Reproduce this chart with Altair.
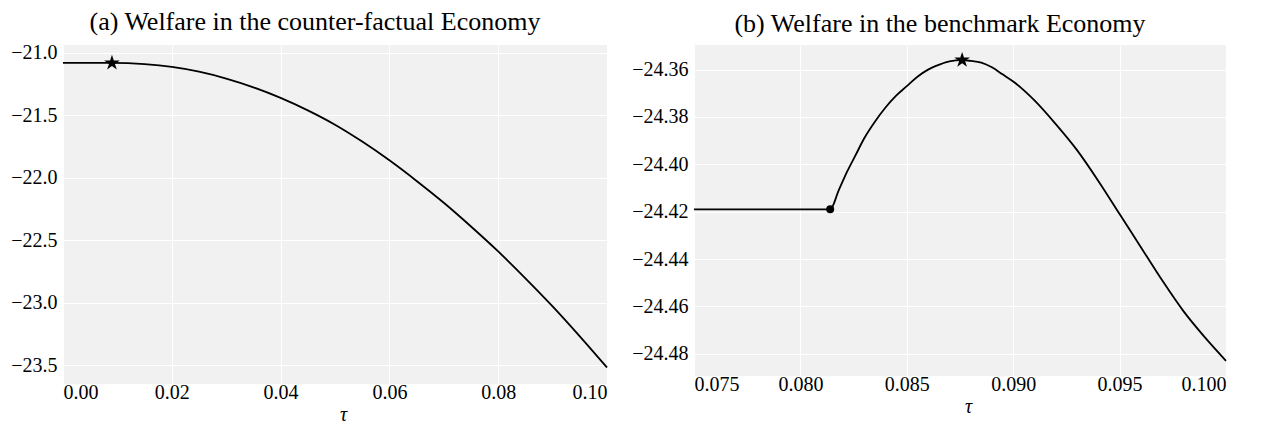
import altair as alt
import pandas as pd

# ---- Panel (a): counter-factual economy ----
tau_a = [0.000, 0.009, 0.015, 0.020, 0.025, 0.030, 0.035, 0.040, 0.045, 0.050,
         0.055, 0.060, 0.065, 0.070, 0.075, 0.080, 0.085, 0.090, 0.095, 0.100]
welfare_a = [-21.080, -21.080, -21.090, -21.112, -21.150, -21.205, -21.275, -21.360,
             -21.460, -21.575, -21.710, -21.860, -22.025, -22.200, -22.390, -22.590,
             -22.805, -23.030, -23.270, -23.520]
star_a_tau = [0.009]
star_a_w = [-21.080]

# ---- Panel (b): benchmark economy ----
tau_b = [0.0750, 0.0814, 0.0818, 0.0822, 0.0826, 0.0830, 0.0835, 0.0840, 0.0845,
         0.0850, 0.0855, 0.0860, 0.0865, 0.0870, 0.0876, 0.0880, 0.0885, 0.0890,
         0.0895, 0.0900, 0.0910, 0.0920, 0.0930, 0.0940, 0.0950, 0.0960, 0.0970,
         0.0980, 0.0990, 0.1000]
welfare_b = [-24.419, -24.419, -24.411, -24.403, -24.396, -24.389, -24.382, -24.376,
             -24.371, -24.367, -24.363, -24.360, -24.358, -24.3565, -24.356, -24.3563,
             -24.357, -24.359, -24.362, -24.365, -24.373, -24.383, -24.394, -24.407,
             -24.421, -24.435, -24.449, -24.462, -24.473, -24.483]
star_b_tau = [0.0876]
star_b_w = [-24.356]
kink_b_tau = [0.0814]
kink_b_w = [-24.419]

ticks_a_x = [0.00, 0.02, 0.04, 0.06, 0.08, 0.10]
ticks_a_y = [-21.0, -21.5, -22.0, -22.5, -23.0, -23.5]
ticks_b_x = [0.075, 0.080, 0.085, 0.090, 0.095, 0.100]
ticks_b_y = [-24.36, -24.38, -24.40, -24.42, -24.44, -24.46, -24.48]

STAR = ("M0,-1 L0.2245,-0.309 L0.951,-0.309 L0.363,0.118 L0.588,0.809 L0,0.382 "
        "L-0.588,0.809 L-0.363,0.118 L-0.951,-0.309 L-0.2245,-0.309 Z")
FONT = "Liberation Serif"


def panel(tau, w, stars, dots, xdom, ydom, xt, yt, xfmt, yfmt, title, width, height):
    df = pd.DataFrame({"tau": tau, "w": w})
    x = alt.X("tau:Q", scale=alt.Scale(domain=xdom, nice=False, zero=False),
              axis=alt.Axis(values=xt, format=xfmt, title="τ", titleX=width / 2 + 8,
                            labelFont=FONT, titleFont=FONT, labelPadding=-2))
    y = alt.Y("w:Q", scale=alt.Scale(domain=ydom, nice=False, zero=False),
              axis=alt.Axis(values=yt, format=yfmt, title=None, labelFont=FONT))
    line = alt.Chart(df).mark_line(color="black", strokeWidth=1.8,
                                   interpolate="monotone").encode(x=x, y=y)
    layers = [line]
    sdf = pd.DataFrame({"tau": stars[0], "w": stars[1]})
    layers.append(alt.Chart(sdf).mark_point(shape=STAR, filled=True, color="black",
                                            size=270, opacity=1).encode(x=x, y=y))
    if dots is not None:
        ddf = pd.DataFrame({"tau": dots[0], "w": dots[1]})
        layers.append(alt.Chart(ddf).mark_point(shape="circle", filled=True, color="black",
                                                size=64, opacity=1).encode(x=x, y=y))
    return alt.layer(*layers).properties(
        width=width, height=height,
        title=alt.TitleParams(title, fontSize=26, font=FONT, fontWeight="normal",
                              color="black", offset=8, dx=-20, anchor="middle"))


left = panel(tau_a, welfare_a, (star_a_tau, star_a_w), None, [0.0, 0.1], [-23.652, -20.936],
             ticks_a_x, ticks_a_y, ".2f", ".1f",
             "(a) Welfare in the counter-factual Economy", 544, 339)
right = panel(tau_b, welfare_b, (star_b_tau, star_b_w), (kink_b_tau, kink_b_w),
              [0.075, 0.100], [-24.4894, -24.3496],
              ticks_b_x, ticks_b_y, ".3f", ".2f",
              "(b) Welfare in the benchmark Economy", 532, 331)

chart = alt.hconcat(left, right, spacing=87, bounds="flush").properties(
    padding={"left": 2, "top": 0, "right": 0, "bottom": 0}
).configure_view(fill="#f1f1f1", strokeWidth=0).configure_axis(
    domain=False, ticks=False, grid=True, gridColor="white", gridWidth=1,
    labelFont=FONT, labelFontSize=20, labelColor="black", labelPadding=6,
    titleFont=FONT, titleFontSize=20, titleFontStyle="italic", titleFontWeight="normal",
    titleColor="black", titlePadding=2
)

chart.save("out.html", embed_options={"renderer": "svg", "actions": False})
